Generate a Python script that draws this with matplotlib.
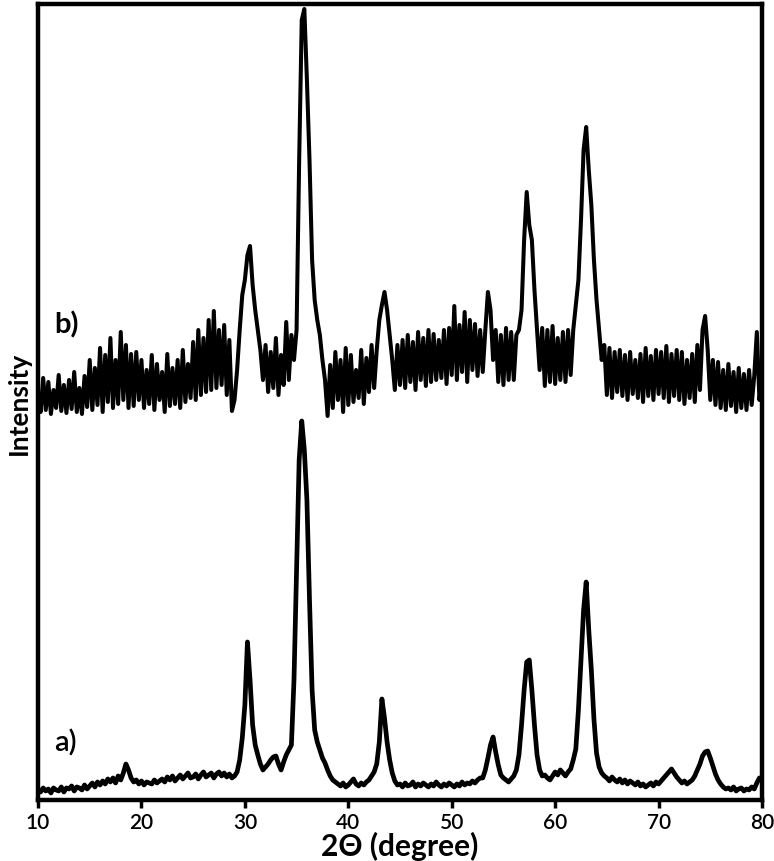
import numpy as np
import matplotlib.pyplot as plt

# XRD patterns, one value every 0.25 deg (10 -> 80)
two_theta = np.linspace(10, 80, 281)

# a) lower pattern (arbitrary units)
intensity_a = [
    10, 8, 12, 9,       # 10
    11, 7, 12, 10,      # 11
    9, 13, 8, 12,       # 12
    11, 14, 9, 13,      # 13
    12, 10, 15, 11,     # 14
    14, 17, 13, 18,     # 15
    15, 19, 16, 21,     # 16
    18, 22, 17, 24,     # 17
    20, 27, 36, 30,     # 18
    22, 18, 20, 16,     # 19
    19, 15, 18, 17,     # 20
    16, 20, 17, 19,     # 21
    21, 18, 23, 20,     # 22
    24, 19, 22, 25,     # 23
    21, 24, 27, 22,     # 24
    23, 26, 21, 25,     # 25
    28, 23, 25, 27,     # 26
    22, 26, 28, 24,     # 27
    27, 23, 26, 22,     # 28
    24, 28, 40, 62,     # 29
    95, 158, 120, 75,   # 30
    55, 45, 36, 30,     # 31
    33, 36, 40, 43,     # 32
    44, 36, 30, 38,     # 33
    45, 50, 55, 120,    # 34
    230, 340, 379, 350, # 35
    300, 200, 110, 70,  # 36
    58, 50, 42, 37,     # 37
    30, 24, 20, 18,     # 38
    16, 14, 17, 13,     # 39
    15, 18, 21, 16,     # 40
    14, 17, 15, 18,     # 41
    20, 24, 28, 36,     # 42
    58, 101, 82, 58,    # 43
    40, 27, 19, 15,     # 44
    16, 13, 17, 14,     # 45
    15, 18, 13, 16,     # 46
    14, 17, 15, 13,     # 47
    16, 14, 18, 15,     # 48
    13, 16, 14, 17,     # 49
    15, 13, 16, 14,     # 50
    18, 15, 17, 16,     # 51
    19, 17, 20, 22,     # 52
    22, 30, 42, 55,     # 53
    63, 48, 35, 25,     # 54
    22, 20, 18, 21,     # 55
    24, 30, 45, 75,     # 56
    110, 138, 140, 110, # 57
    75, 45, 30, 24,     # 58
    25, 22, 20, 24,     # 59
    28, 25, 30, 27,     # 60
    24, 28, 31, 40,     # 61
    51, 90, 140, 190,   # 62
    218, 170, 130, 81,  # 63
    47, 33, 27, 24,     # 64
    22, 19, 23, 20,     # 65
    18, 21, 17, 20,     # 66
    16, 19, 17, 15,     # 67
    18, 14, 16, 13,     # 68
    15, 17, 14, 18,     # 69
    16, 19, 22, 25,     # 70
    28, 31, 27, 23,     # 71
    20, 17, 19, 16,     # 72
    18, 20, 24, 30,     # 73
    36, 44, 48, 49,     # 74
    42, 34, 26, 20,     # 75
    16, 13, 11, 12,     # 76
    10, 13, 9, 11,      # 77
    12, 9, 11, 10,      # 78
    13, 11, 17, 22,     # 79
    19,                 # 80
]

# b) upper pattern (already offset, same units)
intensity_b = [
    405, 388, 422, 390,  # 10
    418, 386, 410, 392,  # 11
    425, 389, 415, 387,  # 12
    420, 391, 428, 388,  # 13
    412, 386, 424, 393,  # 14
    440, 390, 432, 395,  # 15
    452, 388, 445, 398,  # 16
    462, 392, 440, 396,  # 17
    468, 400, 455, 392,  # 18
    446, 394, 448, 400,  # 19
    440, 392, 430, 396,  # 20
    445, 390, 436, 400,  # 21
    428, 388, 446, 394,  # 22
    432, 396, 440, 392,  # 23
    450, 398, 436, 402,  # 24
    458, 400, 470, 405,  # 25
    462, 408, 480, 410,  # 26
    489, 412, 470, 415,  # 27
    475, 405, 460, 389,  # 28
    400, 430, 470, 505,  # 29
    520, 545, 554, 515,  # 30
    490, 470, 450, 420,  # 31
    455, 408, 448, 412,  # 32
    462, 405, 445, 415,  # 33
    478, 420, 465, 440,  # 34
    470, 640, 780, 791,  # 35
    720, 640, 540, 500,  # 36
    480, 465, 440, 420,  # 37
    384, 435, 392, 448,  # 38
    400, 440, 388, 452,  # 39
    395, 445, 398, 430,  # 40
    402, 450, 396, 442,  # 41
    408, 455, 412, 450,  # 42
    480, 495, 508, 490,  # 43
    465, 440, 410, 455,  # 44
    415, 460, 412, 465,  # 45
    418, 458, 410, 468,  # 46
    420, 462, 414, 470,  # 47
    418, 466, 420, 460,  # 48
    422, 470, 416, 472,  # 49
    425, 494, 420, 475,  # 50
    428, 488, 418, 480,  # 51
    430, 476, 424, 470,  # 52
    428, 470, 508, 490,  # 53
    440, 470, 418, 465,  # 54
    415, 472, 420, 468,  # 55
    420, 465, 470, 490,  # 56
    560, 608, 575, 560,  # 57
    510, 470, 430, 472,  # 58
    414, 470, 418, 474,  # 59
    416, 462, 420, 468,  # 60
    418, 470, 425, 470,  # 61
    495, 520, 580, 650,  # 62
    673, 630, 595, 540,  # 63
    500, 470, 440, 455,  # 64
    405, 452, 402, 448,  # 65
    408, 450, 404, 445,  # 66
    400, 448, 406, 440,  # 67
    402, 446, 398, 452,  # 68
    404, 444, 400, 450,  # 69
    406, 448, 402, 454,  # 70
    398, 446, 404, 450,  # 71
    400, 448, 396, 440,  # 72
    402, 446, 398, 455,  # 73
    410, 470, 484, 450,  # 74
    400, 440, 395, 438,  # 75
    392, 430, 390, 436,  # 76
    394, 428, 388, 432,  # 77
    392, 426, 390, 430,  # 78
    395, 424, 468, 400,  # 79
    420,                 # 80
]

tick_values = [10, 20, 30, 40, 50, 60, 70, 80]
series_labels = ["a)", "b)"]

plt.rcParams['font.family'] = ['Lato', 'DejaVu Sans']

fig = plt.figure(figsize=(7.74, 8.62), dpi=100)
ax = fig.add_axes([0.0491, 0.0708, 0.9354, 0.9234])

ax.plot(two_theta, intensity_a, color='black', linewidth=3.4, solid_joinstyle='round')
ax.plot(two_theta, intensity_b, color='black', linewidth=2.9, solid_joinstyle='round')

ax.text(11.6, 58, series_labels[0], fontsize=21, fontweight='semibold', va='center', ha='left')
ax.text(11.6, 476, series_labels[1], fontsize=21, fontweight='bold', va='center', ha='left')

ax.set_xlim(10, 80)
ax.set_ylim(0, 796)
ax.set_xticks(tick_values)
ax.set_xticklabels([str(t) for t in tick_values], fontsize=15, fontweight='semibold')
ax.set_yticks([])
ax.tick_params(axis='x', direction='out', length=6, width=2.5, pad=3)

for spine in ax.spines.values():
    spine.set_linewidth(3.2)

ax.set_xlabel("2Θ (degree)", fontsize=21.5, fontweight='bold', labelpad=-1)
ax.set_ylabel("Intensity", fontsize=19, fontweight='bold', labelpad=5)

fig.savefig("out.png", dpi=100)
